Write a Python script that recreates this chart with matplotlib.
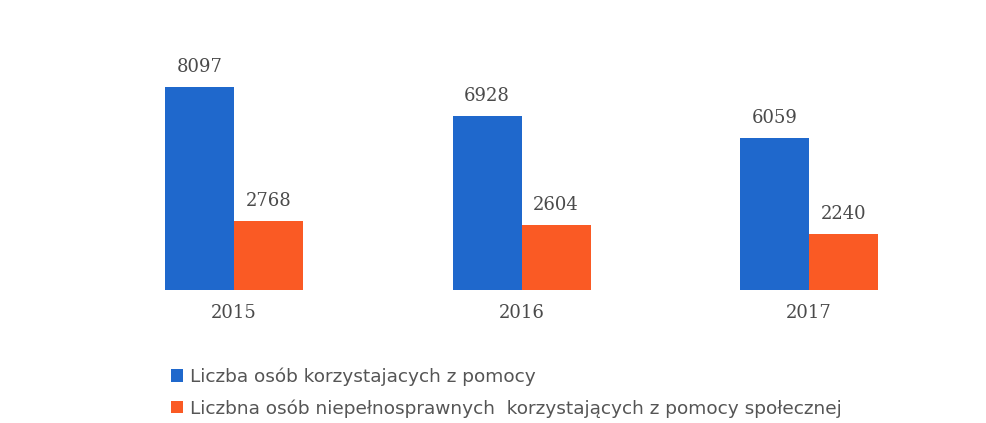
import matplotlib
matplotlib.use("Agg")
import matplotlib.pyplot as plt
import numpy as np

years = ['2015', '2016', '2017']
all_helped = [8097, 6928, 6059]
disabled_helped = [2768, 2604, 2240]
labels = ['Liczba osób korzystajacych z pomocy',
          'Liczbna osób niepełnosprawnych  korzystających z pomocy społecznej']

blue = '#1f68cc'
orange = '#fa5a24'
text_grey = '#4a4a4a'

W, H = 987, 423
fig = plt.figure(figsize=(W / 100, H / 100), dpi=100)
# baseline at y=290 px from the top, axes reaches to the figure top
ax = fig.add_axes([0, 133 / H, 1, 290 / H])
ax.set_xlim(-0.814, 2.619)
ax.set_ylim(0, 11570)
ax.axis('off')

x = np.arange(len(years))
width = 0.24
b1 = ax.bar(x - width / 2, all_helped, width, color=blue, label=labels[0])
b2 = ax.bar(x + width / 2, disabled_helped, width, color=orange, label=labels[1])

for bars, vals in ((b1, all_helped), (b2, disabled_helped)):
    for rect, v in zip(bars, vals):
        ax.annotate(str(v), (rect.get_x() + rect.get_width() / 2, v),
                    xytext=(0, 8), textcoords='offset points',
                    ha='center', va='bottom', fontsize=13,
                    family='DejaVu Serif', color=text_grey)

for xi, yr in zip(x, years):
    ax.annotate(yr, (xi, 0), xytext=(0, -10), textcoords='offset points',
                ha='center', va='top', fontsize=13,
                family='DejaVu Serif', color=text_grey)

leg = fig.legend(handles=[b1, b2], labels=labels, loc='upper left',
                 bbox_to_anchor=(154 / W, 1 - 351 / H), frameon=False,
                 handlelength=0.65, handleheight=0.65, handletextpad=0.4,
                 labelspacing=0.7, fontsize=13.3)
for t in leg.get_texts():
    t.set_color('#555555')

fig.savefig('out.png', dpi=100)
